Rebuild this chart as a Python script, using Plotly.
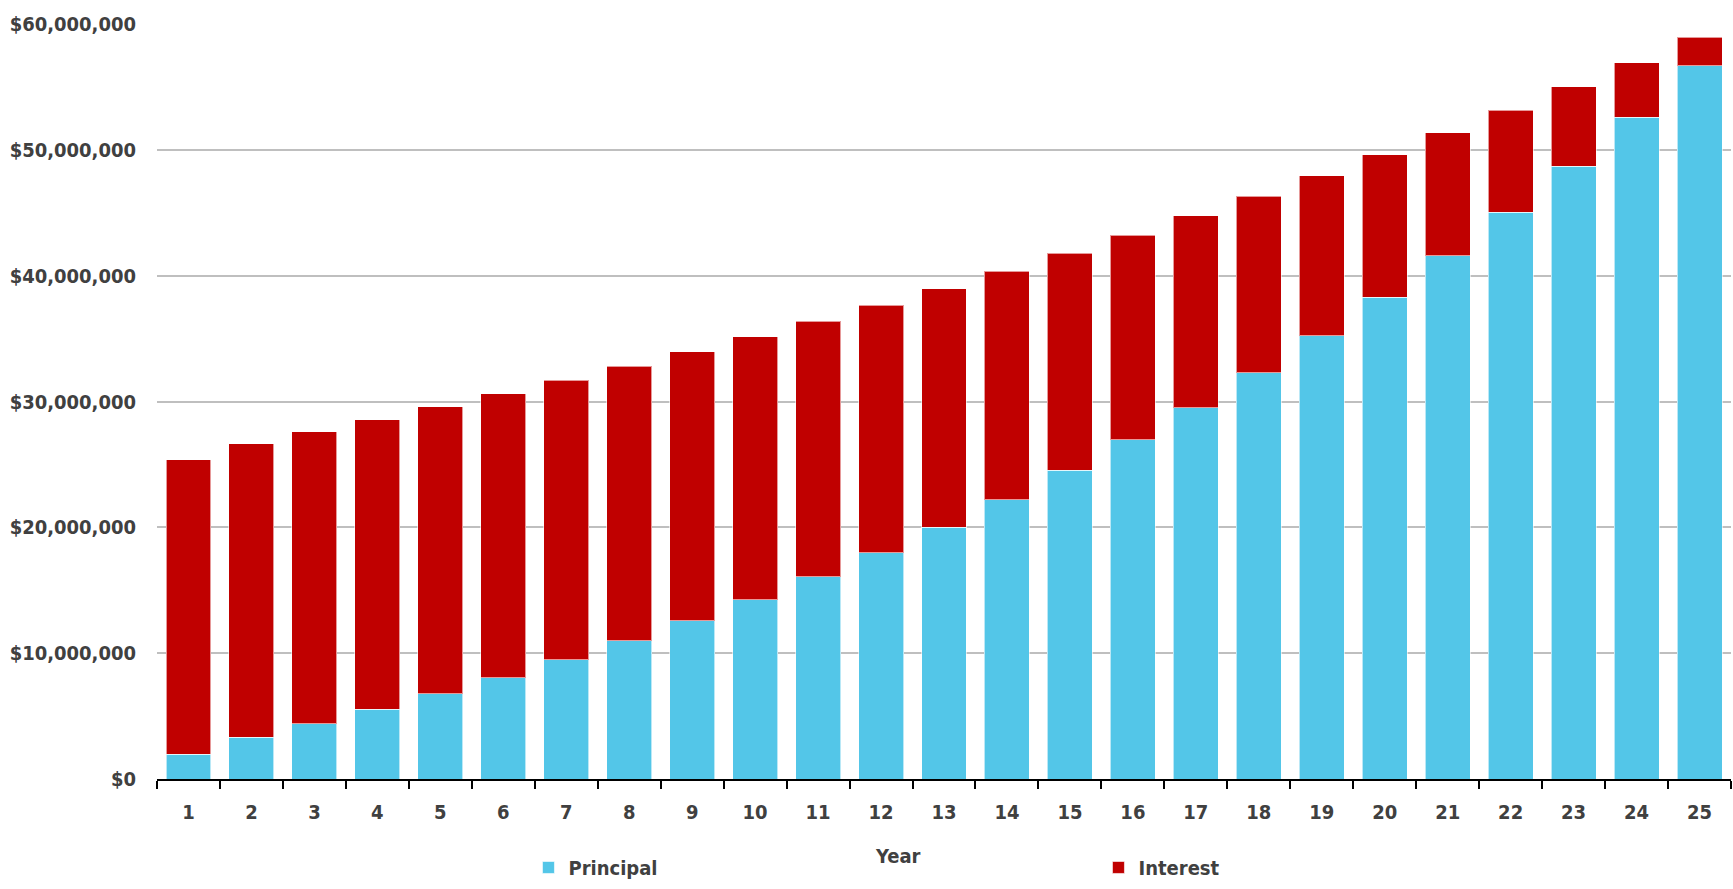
import plotly.graph_objects as go

# Loan amortization: yearly principal and interest components (USD)
years = [str(y) for y in range(1, 26)]
principal = [1.96e6, 3.30e6, 4.38e6, 5.54e6, 6.79e6, 8.05e6, 9.48e6, 10.98e6, 12.57e6,
             14.25e6, 16.07e6, 18.00e6, 20.01e6, 22.20e6, 24.52e6, 26.95e6, 29.51e6,
             32.30e6, 35.21e6, 38.30e6, 41.57e6, 45.03e6, 48.69e6, 52.57e6, 56.67e6]
interest = [23.43e6, 23.36e6, 23.23e6, 23.02e6, 22.80e6, 22.57e6, 22.22e6, 21.83e6, 21.40e6,
            20.88e6, 20.30e6, 19.64e6, 18.97e6, 18.16e6, 17.26e6, 16.26e6, 15.26e6,
            14.02e6, 12.72e6, 11.32e6, 9.77e6, 8.13e6, 6.31e6, 4.36e6, 2.29e6]
y_ticks = [0, 10e6, 20e6, 30e6, 40e6, 50e6, 60e6]

FONT = "DejaVu Sans Condensed, Liberation Sans Narrow, Arial Narrow, sans-serif"
TEXT = "#404040"
SIZE = 20

fig = go.Figure()
fig.add_trace(go.Bar(x=years, y=principal, name="Principal",
                     marker=dict(color="#53C6E8", line=dict(color="rgba(255,255,255,0.6)", width=1))))
fig.add_trace(go.Bar(x=years, y=interest, name="Interest",
                     marker=dict(color="#C00000", line=dict(color="rgba(255,255,255,0.6)", width=1))))

fig.update_layout(
    width=1733, height=889,
    barmode="stack", bargap=0.286,
    plot_bgcolor="white", paper_bgcolor="white",
    margin=dict(l=157, r=2, t=24, b=108),
    font=dict(family=FONT, size=SIZE, color=TEXT, weight="bold"),
    showlegend=True,
    legend=dict(orientation="h", x=0.236, xanchor="left", y=-0.143, yanchor="bottom",
                entrywidth=525, entrywidthmode="pixels", itemwidth=30,
                font=dict(family=FONT, size=SIZE, color=TEXT, weight="bold"),
                traceorder="normal"),
    xaxis=dict(type="category", showline=True, linecolor="black", linewidth=2,
               ticks="outside", tickson="boundaries", ticklen=8, tickwidth=2, tickcolor="black",
               showgrid=False, ticklabelstandoff=14, automargin=False,
               tickfont=dict(family=FONT, size=SIZE, color=TEXT, weight="bold")),
    yaxis=dict(range=[0, 60e6], tickvals=y_ticks, tickformat="$,.0f",
               showgrid=True, gridcolor="#BFBFBF", gridwidth=2, zeroline=False,
               showline=False, ticks="", ticklabelstandoff=20, automargin=False,
               tickfont=dict(family=FONT, size=SIZE, color=TEXT, weight="bold")),
    annotations=[dict(text="Year", xref="paper", yref="paper", x=0.471, y=-0.083,
                      xanchor="center", yanchor="top", showarrow=False,
                      font=dict(family=FONT, size=SIZE, color=TEXT, weight="bold"))],
)

fig.write_html("out.html")
